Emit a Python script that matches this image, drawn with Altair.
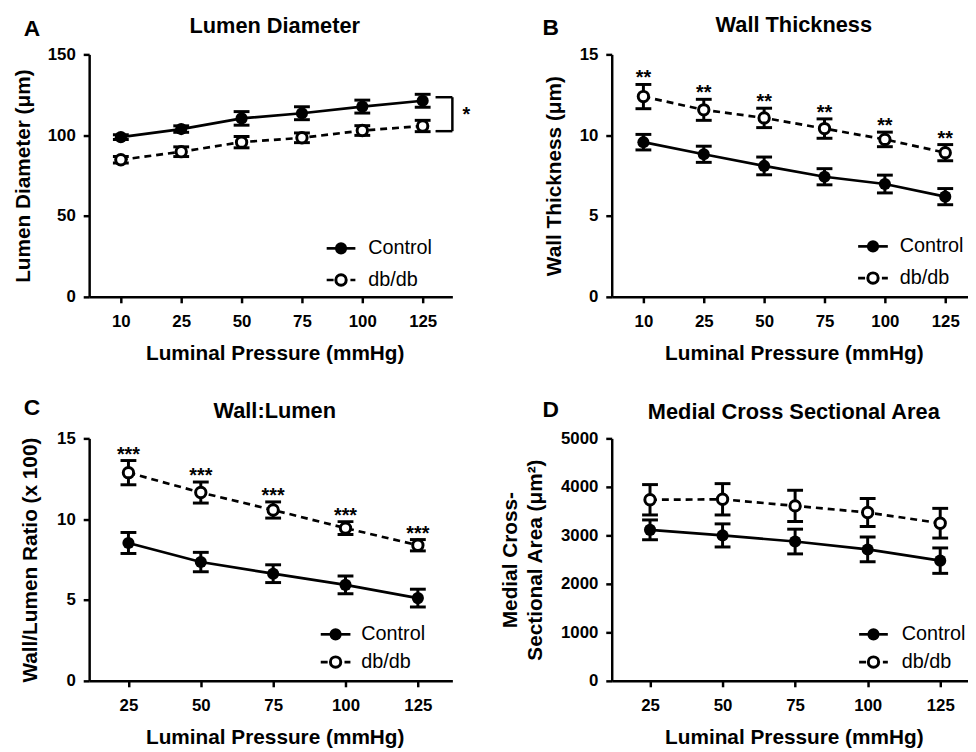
import json
import altair as alt
import pandas as pd

FONT = "Liberation Sans"

# ---------------- data ----------------
A_PRESSURE = ["10", "25", "50", "75", "100", "125"]
A_CONTROL = [98.8, 103.8, 110.4, 113.6, 117.7, 121.3]
A_CONTROL_ERR = [1.5, 2.0, 4.2, 4.0, 4.0, 4.0]
A_DBDB = [84.8, 89.8, 95.7, 98.4, 102.9, 105.7]
A_DBDB_ERR = [2.0, 3.0, 3.5, 3.0, 3.0, 3.5]
A_BRACKET = [123.5, 102.5]

B_PRESSURE = ["10", "25", "50", "75", "100", "125"]
B_CONTROL = [9.57, 8.82, 8.10, 7.43, 6.98, 6.20]
B_CONTROL_ERR = [0.48, 0.50, 0.55, 0.50, 0.55, 0.50]
B_DBDB = [12.39, 11.57, 11.07, 10.41, 9.74, 8.92]
B_DBDB_ERR = [0.75, 0.65, 0.60, 0.60, 0.45, 0.50]

C_PRESSURE = ["25", "50", "75", "100", "125"]
C_CONTROL = [8.53, 7.35, 6.63, 5.94, 5.12]
C_CONTROL_ERR = [0.65, 0.60, 0.55, 0.55, 0.55]
C_DBDB = [12.88, 11.65, 10.57, 9.45, 8.39]
C_DBDB_ERR = [0.75, 0.65, 0.50, 0.40, 0.35]

D_PRESSURE = ["25", "50", "75", "100", "125"]
D_CONTROL = [3114, 2999, 2873, 2710, 2479]
D_CONTROL_ERR = [204, 238, 255, 255, 262]
D_DBDB = [3734, 3744, 3608, 3472, 3251]
D_DBDB_ERR = [313, 323, 322, 289, 306]

SERIES = ["Control", "db/db"]
XTITLE = "Luminal Pressure (mmHg)"
H = 245
DASH = [7, 5]


def make_df(pressures, control, control_err, dbdb, dbdb_err):
    rows = []
    for i, p in enumerate(pressures):
        rows.append({"i": i, "pressure": p, "series": SERIES[0],
                     "mean": control[i], "err": control_err[i]})
        rows.append({"i": i, "pressure": p, "series": SERIES[1],
                     "mean": dbdb[i], "err": dbdb_err[i]})
    df = pd.DataFrame(rows)
    df["lo"] = df["mean"] - df["err"]
    df["hi"] = df["mean"] + df["err"]
    return df


FILLED = dict(shape="circle", filled=True, fill="black", size=150, opacity=1)
OPEN = dict(shape="circle", filled=True, fill="white", stroke="black",
            strokeWidth=3, size=110, opacity=1)


def panel(pressures, control, control_err, dbdb, dbdb_err, *, width, xdomain,
          ymax, yticks, ytitle, ytitle_x, title, title_y, letter, letter_y,
          legend, stars=None, bracket=None):
    df = make_df(pressures, control, control_err, dbdb, dbdb_err)
    n = len(pressures)
    xaxis = alt.Axis(values=list(range(n)),
                     labelExpr=json.dumps(pressures) + "[datum.value]",
                     title=XTITLE, labelPadding=11, titleY=63,
                     titleX=width / 2 + 4, titleAlign="center",
                     titleBaseline="alphabetic")
    yaxis = alt.Axis(values=yticks, title=ytitle, labelPadding=8, format="d",
                     titleX=ytitle_x, titleY=H / 2, titleBaseline="middle",
                     titleAlign="center", titleLineHeight=25)
    xs = alt.Scale(domain=xdomain, nice=False, zero=False)
    ys = alt.Scale(domain=[0, ymax], nice=False)

    def X(f="i"):
        return alt.X(f + ":Q", scale=xs, axis=xaxis)

    def Y(f):
        return alt.Y(f + ":Q", scale=ys, axis=yaxis)

    base = alt.Chart(df)
    ctrl = base.transform_filter(alt.datum.series == SERIES[0])
    db = base.transform_filter(alt.datum.series == SERIES[1])

    layers = [
        ctrl.mark_line(color="black", strokeWidth=2.7).encode(x=X(), y=Y("mean")),
        db.mark_line(color="black", strokeWidth=2.7, strokeDash=DASH).encode(x=X(), y=Y("mean")),
        base.mark_rule(color="black", strokeWidth=3).encode(x=X(), y=Y("lo"), y2="hi:Q"),
        base.mark_tick(orient="horizontal", color="black", size=16, thickness=3,
                       opacity=1).encode(x=X(), y=Y("lo")),
        base.mark_tick(orient="horizontal", color="black", size=16, thickness=3,
                       opacity=1).encode(x=X(), y=Y("hi")),
        ctrl.mark_point(**FILLED).encode(x=X(), y=Y("mean")),
        db.mark_point(**OPEN).encode(x=X(), y=Y("mean")),
    ]

    if stars:
        layers.append(
            db.mark_text(font=FONT, fontSize=20, fontWeight="bold", color="black",
                         baseline="alphabetic", dy=0).encode(
                x=X(), y=Y("hi"), text=alt.value(stars)))

    if bracket:
        bdf = pd.DataFrame({"top": [bracket[0]], "bot": [bracket[1]],
                            "mid": [(bracket[0] + bracket[1]) / 2]})
        bc = alt.Chart(bdf)
        layers += [
            bc.mark_rule(color="black", strokeWidth=2.5).encode(
                x=alt.value(width), y=Y("top"), y2="bot:Q"),
            bc.mark_rule(color="black", strokeWidth=2.5).encode(
                x=alt.value(width - 17), x2=alt.value(width), y=Y("top")),
            bc.mark_rule(color="black", strokeWidth=2.5).encode(
                x=alt.value(width - 17), x2=alt.value(width), y=Y("bot")),
            bc.mark_text(font=FONT, fontSize=20, fontWeight="bold", color="black",
                         baseline="alphabetic", dy=7).encode(
                x=alt.value(width + 14), y=Y("mid"), text=alt.value("*")),
        ]

    # legend
    lx0, lx1, tx, ly = legend
    for k, s in enumerate(SERIES):
        ldf = alt.Chart(pd.DataFrame({"series": [s]}))
        rule_kw = dict(color="black", strokeWidth=2.7)
        if k == 1:
            rule_kw["strokeDash"] = DASH
        layers.append(ldf.mark_rule(**rule_kw).encode(
            x=alt.value(lx0), x2=alt.value(lx1), y=alt.value(ly[k])))
        pt = ldf.mark_point(**(FILLED if k == 0 else OPEN))
        layers.append(pt.encode(x=alt.value((lx0 + lx1) / 2), y=alt.value(ly[k])))
        layers.append(ldf.mark_text(font=FONT, fontSize=20, color="black",
                                    align="left", baseline="middle").encode(
            x=alt.value(tx), y=alt.value(ly[k]), text="series:N"))

    # panel letter and title
    tdf = alt.Chart(pd.DataFrame({"t": [title], "l": [letter]}))
    layers.append(tdf.mark_text(font=FONT, fontSize=22, fontWeight="bold",
                                color="black", align="center",
                                baseline="alphabetic").encode(
        x=alt.value(width / 2 + 4), y=alt.value(title_y), text="t:N"))
    layers.append(tdf.mark_text(font=FONT, fontSize=23, fontWeight="bold",
                                color="black", align="left",
                                baseline="alphabetic").encode(
        x=alt.value(-66 if letter in "AC" else -70), y=alt.value(letter_y),
        text="l:N"))

    return alt.layer(*layers).properties(width=width, height=H)


pA = panel(A_PRESSURE, A_CONTROL, A_CONTROL_ERR, A_DBDB, A_DBDB_ERR,
           width=367, xdomain=[-0.525, 5.492], ymax=150, yticks=[0, 50, 100, 150],
           ytitle="Lumen Diameter (μm)", ytitle_x=-66, title="Lumen Diameter",
           title_y=-22, letter="A", letter_y=-19,
           legend=(240, 269, 282, [196, 228]), bracket=A_BRACKET)
pB = panel(B_PRESSURE, B_CONTROL, B_CONTROL_ERR, B_DBDB, B_DBDB_ERR,
           width=360, xdomain=[-0.525, 5.377], ymax=15, yticks=[0, 5, 10, 15],
           ytitle="Wall Thickness (μm)", ytitle_x=-58, title="Wall Thickness",
           title_y=-23, letter="B", letter_y=-20,
           legend=(249, 279, 291, [194, 226]), stars="**")
pC = panel(C_PRESSURE, C_CONTROL, C_CONTROL_ERR, C_DBDB, C_DBDB_ERR,
           width=367, xdomain=[-0.543, 4.477], ymax=15, yticks=[0, 5, 10, 15],
           ytitle="Wall/Lumen Ratio (x 100)", ytitle_x=-59, title="Wall:Lumen",
           title_y=-21, letter="C", letter_y=-24,
           legend=(234, 264, 275, [198, 226]), stars="***")
pD = panel(D_PRESSURE, D_CONTROL, D_CONTROL_ERR, D_DBDB, D_DBDB_ERR,
           width=360, xdomain=[-0.528, 4.383], ymax=5000,
           yticks=[0, 1000, 2000, 3000, 4000, 5000],
           ytitle=["Medial Cross-", "Sectional Area (μm²)"], ytitle_x=-102,
           title="Medial Cross Sectional Area", title_y=-20, letter="D",
           letter_y=-22, legend=(250, 279, 293, [198, 226]))

chart = alt.concat(pA, pB, pC, pD, columns=2,
                   spacing={"row": 143, "column": 161}, bounds="flush").properties(
    padding={"left": 4, "top": 2, "right": 0, "bottom": 0},
    background="white",
).configure_view(stroke=None).configure_axis(
    grid=False, domainColor="black", domainWidth=2.5, tickColor="black",
    tickWidth=2.5, tickSize=6, labelFont=FONT, labelFontSize=17,
    labelFontWeight="bold", labelColor="black", titleFont=FONT,
    titleFontSize=21, titleFontWeight="bold", titleColor="black",
)

chart.save("out.html", embed_options={"renderer": "svg", "actions": False})
